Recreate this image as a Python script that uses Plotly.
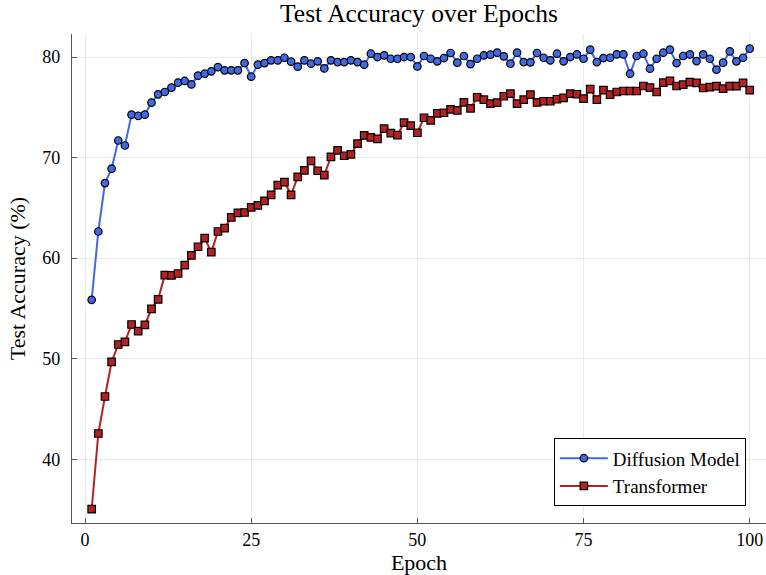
import plotly.graph_objects as go

epochs = list(range(1, 101))

diffusion = [
    55.85, 62.65, 67.46, 68.9, 71.7, 71.2, 74.27, 74.14, 74.27, 75.46,
    76.29, 76.52, 76.95, 77.45, 77.62, 77.28, 78.15, 78.34, 78.58, 79.0,
    78.68, 78.68, 78.68, 79.4, 78.05, 79.24, 79.4, 79.67, 79.67, 79.93,
    79.54, 79.04, 79.67, 79.34, 79.57, 78.87, 79.67, 79.5, 79.5, 79.67,
    79.5, 79.24, 80.33, 80.0, 80.17, 79.83, 79.83, 80.0, 80.0, 79.07,
    80.1, 79.83, 79.57, 79.9, 80.4, 79.44, 80.1, 79.3, 79.83, 80.17,
    80.23, 80.43, 80.07, 79.34, 80.43, 79.5, 79.47, 80.4, 79.93, 79.67,
    80.33, 79.57, 80.0, 80.26, 79.83, 80.73, 79.5, 79.9, 79.93, 80.26,
    80.26, 78.34, 80.1, 80.33, 78.84, 79.83, 80.43, 80.73, 79.4, 80.1,
    80.26, 79.6, 80.26, 79.83, 78.74, 79.44, 80.56, 79.57, 79.93, 80.83,
]

transformer = [
    35.03, 42.56, 46.24, 49.68, 51.41, 51.67, 53.4, 52.74, 53.37, 54.96,
    55.9, 58.31, 58.28, 58.47, 59.3, 60.27, 61.13, 61.99, 60.6, 62.65,
    62.99, 64.05, 64.51, 64.54, 65.04, 65.24, 65.7, 66.3, 67.26, 67.56,
    66.3, 68.09, 68.72, 69.68, 68.69, 68.26, 70.08, 70.72, 70.18, 70.32,
    71.38, 72.21, 72.01, 71.87, 72.87, 72.44, 72.24, 73.47, 73.17, 72.47,
    73.96, 73.7, 74.4, 74.46, 74.8, 74.7, 75.5, 74.9, 76.0, 75.76,
    75.36, 75.46, 76.1, 76.36, 75.36, 75.76, 76.26, 75.5, 75.6, 75.6,
    75.8, 75.93, 76.36, 76.3, 75.86, 76.8, 75.76, 76.7, 76.26, 76.52,
    76.62, 76.62, 76.62, 77.12, 76.95, 76.52, 77.45, 77.62, 77.12, 77.25,
    77.5, 77.42, 76.92, 77.0, 77.1, 76.85, 77.1, 77.1, 77.42, 76.7,
]

x_ticks = [0, 25, 50, 75, 100]
y_ticks = [40, 50, 60, 70, 80]

FONT = "Liberation Serif"

fig = go.Figure()
fig.add_trace(go.Scatter(
    x=epochs, y=diffusion, mode="lines+markers", name="Diffusion Model",
    line=dict(color="#4169E1", width=2),
    marker=dict(symbol="circle", size=7.5, color="#4169E1",
                line=dict(color="black", width=1.2)),
))
fig.add_trace(go.Scatter(
    x=epochs, y=transformer, mode="lines+markers", name="Transformer",
    line=dict(color="#B22222", width=2),
    marker=dict(symbol="square", size=7.5, color="#B22222",
                line=dict(color="black", width=1.2)),
))

axis_common = dict(
    showgrid=True, gridcolor="rgba(0,0,0,0.08)", gridwidth=1,
    zeroline=False, showline=True, linecolor="#555555", linewidth=1.2,
    ticks="inside", ticklen=5, tickcolor="#555555", tickwidth=1,
    tickfont=dict(family=FONT, size=18, color="black"),
    mirror=False,
)

fig.update_layout(
    width=766, height=575,
    paper_bgcolor="white", plot_bgcolor="white",
    margin=dict(l=72, r=0, t=34, b=52, autoexpand=False),
    title=dict(text="Test Accuracy over Epochs", x=0.5, xref="paper",
               y=0.978, yref="container", yanchor="middle",
               font=dict(family=FONT, size=25.5, color="black")),
    xaxis=dict(range=[-1.96, 102.45], tickvals=x_ticks,
               ticktext=[str(v) for v in x_ticks],
               title=dict(text="Epoch", font=dict(family=FONT, size=22, color="black"),
                          standoff=8),
               ticklabelstandoff=0,
               **axis_common),
    yaxis=dict(range=[33.66, 82.29], tickvals=y_ticks,
               ticktext=[str(v) for v in y_ticks],
               title=dict(text="Test Accuracy (%)", font=dict(family=FONT, size=22, color="black"),
                          standoff=10),
               ticklabelstandoff=7,
               **axis_common),
    legend=dict(x=0.971, y=0.034, xanchor="right", yanchor="bottom",
                bgcolor="white", bordercolor="black", borderwidth=1,
                font=dict(family=FONT, size=19, color="black"),
                itemwidth=48, tracegroupgap=0),
    showlegend=True,
)

fig.write_html("out.html", config={"displayModeBar": False},
               post_script="document.body.style.margin='0';")
